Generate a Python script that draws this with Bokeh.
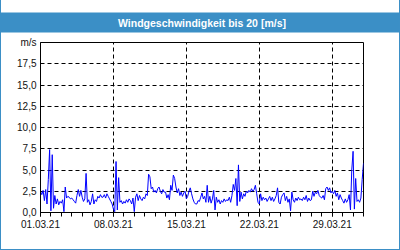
from datetime import datetime, timezone
import pandas as pd
from bokeh.plotting import figure
from bokeh.models import Range1d, FixedTicker, DatetimeTickFormatter, CustomJSTickFormatter, ColumnDataSource
from bokeh.embed import file_html
from bokeh.resources import INLINE

title_text = "Windgeschwindigkeit bis 20 [m/s]"
unit_label = "m/s"
start = "2021-03-01"
step = "3h"
y_ticks = [0, 2.5, 5, 7.5, 10, 12.5, 15, 17.5]
major_days = [1, 8, 15, 22, 29]

speed = [
    2.5, 2.1, 2.6, 1.4, 2.7, 1.0, 3.9, 7.4,
    0.2, 6.8, 0.5, 2.0, 1.0, 1.6, 0.9, 1.3,
    1.1, 1.5, 0.1, 3.0, 1.7, 1.9, 1.8, 1.6,
    1.7, 1.5, 1.3, 1.1, 2.0, 2.7, 1.9, 2.6,
    1.8, 1.3, 1.6, 4.6, 1.2, 1.5, 0.9, 1.3,
    2.2, 1.0, 1.5, 1.3, 1.9, 1.7, 2.1, 1.8,
    1.8, 2.1, 1.7, 2.2, 1.9, 1.6, 1.3, 1.0,
    0.4, 0.1, 6.0, 0.3, 4.1, 1.2, 1.4, 1.0,
    1.3, 1.1, 1.5, 1.2, 1.6, 1.4, 1.0, 1.7,
    0.1, 1.8, 2.2, 1.4, 2.0, 1.6, 1.4, 1.8,
    1.6, 2.2, 2.0, 4.5, 4.2, 2.8, 3.0, 2.4,
    2.6, 2.3, 2.8, 3.0, 2.5, 2.2, 2.7, 2.4,
    2.4, 1.7, 2.1, 1.5, 3.2, 2.6, 4.4, 4.0,
    3.0, 2.3, 2.8, 2.0, 2.4, 1.9, 2.3, 2.5,
    1.6, 1.9, 2.5, 2.9, 2.2, 1.6, 1.2, 1.0,
    1.0, 1.4, 1.3, 1.8, 2.3, 1.6, 1.9, 1.2,
    3.2, 1.2, 1.9, 1.1, 1.6, 2.6, 0.3, 1.8,
    1.2, 1.5, 1.0, 1.4, 1.2, 1.6, 1.3, 1.5,
    1.4, 1.8, 1.2, 2.0, 3.3, 2.6, 4.0, 0.8,
    5.6, 1.3, 2.4, 1.6, 2.2, 1.9, 2.5, 2.3,
    2.6, 2.4, 2.8, 2.5, 2.7, 3.2, 2.2, 1.2,
    1.0, 2.2, 1.4, 1.8, 1.5, 1.7, 1.3, 1.6,
    1.9, 1.4, 1.8, 1.3, 1.6, 2.0, 2.9, 1.2,
    1.0, 1.8, 2.1, 2.3, 1.4, 1.9, 1.2, 1.6,
    0.2, 2.4, 1.5, 1.2, 1.7, 1.4, 1.8, 1.5,
    1.6, 1.4, 1.8, 1.5, 2.0, 1.3, 1.7, 1.4,
    1.5, 2.5, 1.9, 2.4, 2.2, 2.6, 2.0, 1.8,
    1.7, 2.0, 1.5, 2.8, 3.0, 2.6, 2.9, 2.3,
    2.5, 2.2, 2.6, 1.9, 2.3, 1.5, 2.1, 1.7,
    1.4, 1.1, 1.6, 1.2, 1.5, 2.1, 0.3, 5.0,
    7.2, 0.4, 4.0, 1.3, 1.5, 1.2, 1.7, 3.9,
    5.8,
]

times = pd.date_range(start, periods=len(speed), freq=step)
src = ColumnDataSource(dict(t=times, v=speed))


def ms(y, m, d):
    return datetime(y, m, d, tzinfo=timezone.utc).timestamp() * 1000


x0 = ms(2021, 3, 1)
x1 = ms(2021, 4, 1)
major = [ms(2021, 3, d) for d in major_days]
minor = [ms(2021, 3, d) for d in range(1, 32)] + [x1]

BLUE = "#3b8fc6"
W, H = 398, 249
ML, MR, MT, MB = 39, 38, 40, 38

p = figure(width=W, height=H, x_axis_type="datetime", output_backend="svg",
           toolbar_location=None, x_range=Range1d(x0, x1), y_range=Range1d(0, 20),
           min_border_left=ML, min_border_right=MR, min_border_top=MT, min_border_bottom=MB)
p.styles = {"border-left": f"1px solid {BLUE}", "border-right": f"1px solid {BLUE}",
            "border-bottom": f"1px solid {BLUE}", "box-sizing": "content-box"}
p.background_fill_color = "white"
p.border_fill_color = "white"
p.outline_line_color = "black"
p.outline_line_width = 1
p.outline_line_alpha = 1

p.title.text = title_text
p.title.align = "center"
p.title.offset = 4
p.title.text_color = "white"
p.title.text_font = "Liberation Sans"
p.title.text_font_style = "bold"
p.title.text_font_size = "10.5px"
p.title.background_fill_color = BLUE
p.title.padding = (240, 4)
p.title.standoff = 20

p.line("t", "v", source=src, line_color="#0000ff", line_width=1)

p.xaxis.ticker = FixedTicker(ticks=major, minor_ticks=minor)
fmt = "%d.%m.%y"
p.xaxis.formatter = DatetimeTickFormatter(milliseconds=fmt, seconds=fmt, minsec=fmt, minutes=fmt,
                                          hourmin=fmt, hours=fmt, days=fmt, months=fmt, years=fmt)
p.xaxis.major_tick_out = 4
p.xaxis.major_tick_in = 0
p.xaxis.minor_tick_out = 4
p.xaxis.minor_tick_in = 0
p.xaxis.major_label_standoff = 3

p.yaxis.ticker = FixedTicker(ticks=y_ticks + [20])
p.yaxis.formatter = CustomJSTickFormatter(
    args=dict(unit=unit_label),
    code="return tick >= 20 ? unit : tick.toFixed(1).replace('.', ',');")
p.yaxis.major_tick_out = 0
p.yaxis.major_tick_in = 0
p.yaxis.minor_tick_out = 0
p.yaxis.minor_tick_in = 0
p.yaxis.major_label_standoff = 4

for ax in (p.xaxis, p.yaxis):
    ax.axis_line_color = "black"
    ax.major_tick_line_color = "black"
    ax.minor_tick_line_color = "black"
    ax.major_label_text_font = "Liberation Sans"
    ax.major_label_text_font_size = "10px"
    ax.major_label_text_color = "#111111"

p.xgrid.ticker = FixedTicker(ticks=major)
p.ygrid.ticker = FixedTicker(ticks=y_ticks)
for g in (p.xgrid, p.ygrid):
    g.grid_line_color = "black"
    g.grid_line_dash = "4 3"
    g.grid_line_width = 1

open("out.html", "w").write(file_html(p, INLINE))
